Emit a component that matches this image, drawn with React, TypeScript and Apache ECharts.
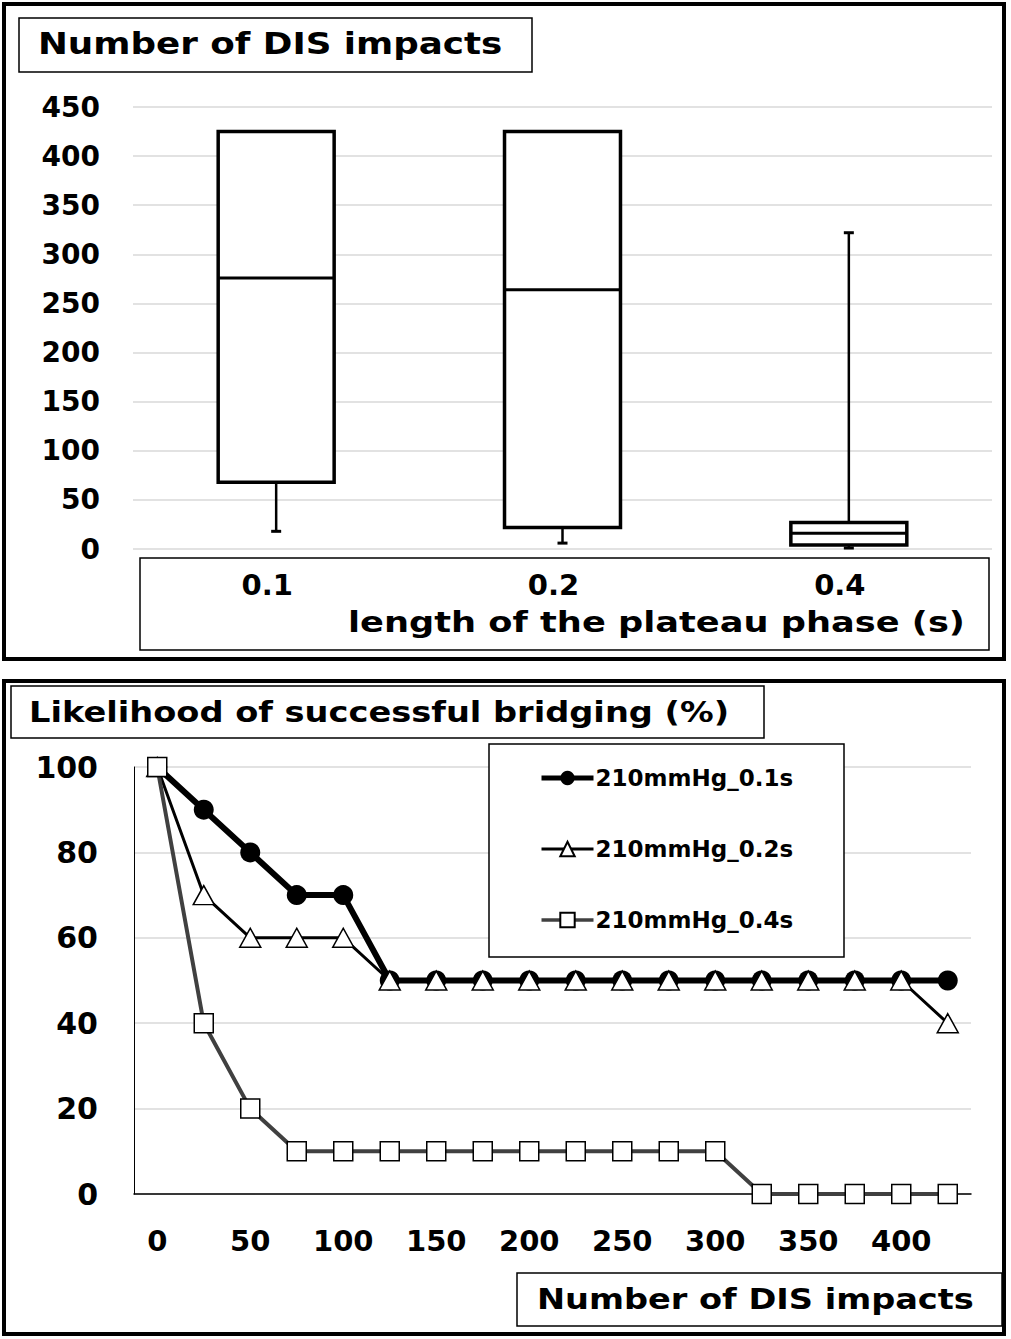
import React, { useEffect, useRef } from "react";
import * as echarts from "echarts";

// ---------- Top panel: box plot ----------
const boxCategories = ["0.1", "0.2", "0.4"];
const boxMin = [18, 6, 1];
const boxQ1 = [68, 22, 4];
const boxMedian = [276, 264, 16];
const boxQ3 = [425, 425, 27];
const boxMax = [425, 425, 322];

// ---------- Bottom panel: line chart ----------
const impactCategories = [
  "0", "25", "50", "75", "100", "125", "150", "175", "200",
  "225", "250", "275", "300", "325", "350", "375", "400", "425",
];
const series01 = [100, 90, 80, 70, 70, 50, 50, 50, 50, 50, 50, 50, 50, 50, 50, 50, 50, 50];
const series02 = [100, 70, 60, 60, 60, 50, 50, 50, 50, 50, 50, 50, 50, 50, 50, 50, 50, 40];
const series04 = [100, 40, 20, 10, 10, 10, 10, 10, 10, 10, 10, 10, 10, 0, 0, 0, 0, 0];
const seriesNames = ["210mmHg_0.1s", "210mmHg_0.2s", "210mmHg_0.4s"];

const FONT = "DejaVu Sans";

export default function App() {
  const ref = useRef<HTMLDivElement>(null);

  useEffect(() => {
    if (!ref.current) return;
    const chart = echarts.init(ref.current, undefined, { renderer: "svg" });

    const boxData = boxCategories.map((_, i) => [
      i, boxMin[i], boxQ1[i], boxMedian[i], boxQ3[i], boxMax[i],
    ]);

    const labelStyle = {
      fontFamily: FONT,
      fontWeight: "bold" as const,
      color: "#000",
    };

    const option: any = {
      animation: false,
      backgroundColor: "#fff",
      grid: [
        { left: 133, right: 19, top: 107, bottom: 790, containLabel: false },
        { left: 134, right: 40, top: 767, bottom: 145, containLabel: false },
      ],
      xAxis: [
        {
          gridIndex: 0,
          type: "category",
          data: boxCategories,
          boundaryGap: true,
          axisLine: { show: false },
          axisTick: { show: false },
          splitLine: { show: false },
          axisLabel: { ...labelStyle, fontSize: 29, margin: 21, padding: [0, 18, 0, 0] },
        },
        {
          gridIndex: 1,
          type: "category",
          data: impactCategories,
          boundaryGap: true,
          axisLine: { show: true, lineStyle: { color: "#000", width: 1.5 } },
          axisTick: { show: false },
          splitLine: { show: false },
          axisLabel: { ...labelStyle, fontSize: 29, margin: 32, interval: 1 },
        },
      ],
      yAxis: [
        {
          gridIndex: 0,
          type: "value",
          min: 0,
          max: 450,
          interval: 50,
          axisLine: { show: false },
          axisTick: { show: false },
          splitLine: { show: true, lineStyle: { color: "#d9d9d9", width: 1.5 } },
          axisLabel: { ...labelStyle, fontSize: 28, margin: 33 },
        },
        {
          gridIndex: 1,
          type: "value",
          min: 0,
          max: 100,
          interval: 20,
          axisLine: { show: true, lineStyle: { color: "#000", width: 1 } },
          axisTick: { show: false },
          splitLine: { show: true, lineStyle: { color: "#d9d9d9", width: 1.5 } },
          axisLabel: { ...labelStyle, fontSize: 30, margin: 36 },
        },
      ],
      legend: {
        data: [
          { name: seriesNames[0], lineStyle: { width: 5, color: "#000" } },
          { name: seriesNames[1], lineStyle: { width: 3, color: "#000" } },
          { name: seriesNames[2], lineStyle: { width: 3.5, color: "#404040" } },
        ],
        orient: "vertical",
        left: 539,
        top: 766,
        padding: 0,
        itemWidth: 52,
        itemHeight: 18,
        itemGap: 47,
        z: 10,
        textStyle: { ...labelStyle, fontSize: 23, lineHeight: 24, padding: [0, 0, 0, -3] },
      },
      series: [
        {
          type: "custom",
          xAxisIndex: 0,
          yAxisIndex: 0,
          data: boxData,
          encode: { x: 0, y: [1, 2, 3, 4, 5] },
          renderItem: (params: any, api: any) => {
            const i = api.value(0);
            const vMin = api.value(1);
            const q1 = api.value(2);
            const med = api.value(3);
            const q3 = api.value(4);
            const vMax = api.value(5);
            const pMin = api.coord([i, vMin]);
            const pQ1 = api.coord([i, q1]);
            const pMed = api.coord([i, med]);
            const pQ3 = api.coord([i, q3]);
            const pMax = api.coord([i, vMax]);
            const band = api.size([1, 0])[0];
            const w = band * 0.405;
            const cx = pMed[0];
            const cap = 5;
            const children: any[] = [];
            const ws = { stroke: "#000", lineWidth: 2.5 };
            if (vMin < q1) {
              children.push({ type: "line", shape: { x1: cx, y1: pQ1[1], x2: cx, y2: pMin[1] }, style: ws });
              children.push({ type: "line", shape: { x1: cx - cap, y1: pMin[1], x2: cx + cap, y2: pMin[1] }, style: { stroke: "#000", lineWidth: 3 } });
            }
            if (vMax > q3) {
              children.push({ type: "line", shape: { x1: cx, y1: pQ3[1], x2: cx, y2: pMax[1] }, style: ws });
              children.push({ type: "line", shape: { x1: cx - cap, y1: pMax[1], x2: cx + cap, y2: pMax[1] }, style: { stroke: "#000", lineWidth: 3 } });
            }
            children.push({
              type: "rect",
              shape: { x: cx - w / 2, y: pQ3[1], width: w, height: pQ1[1] - pQ3[1] },
              style: { fill: "#fff", stroke: "#000", lineWidth: 3.5 },
            });
            children.push({
              type: "line",
              shape: { x1: cx - w / 2, y1: pMed[1], x2: cx + w / 2, y2: pMed[1] },
              style: { stroke: "#000", lineWidth: 3 },
            });
            return { type: "group", children };
          },
        },
        {
          name: seriesNames[0],
          type: "line",
          xAxisIndex: 1,
          yAxisIndex: 1,
          data: series01,
          color: "#000",
          symbol: "circle",
          symbolSize: 20,
          lineStyle: { color: "#000", width: 6 },
          itemStyle: { color: "#000" },
        },
        {
          name: seriesNames[1],
          type: "line",
          xAxisIndex: 1,
          yAxisIndex: 1,
          data: series02,
          color: "#000",
          symbol: "triangle",
          symbolSize: [21, 19],
          lineStyle: { color: "#000", width: 3 },
          itemStyle: { color: "#fff", borderColor: "#000", borderWidth: 1.5 },
        },
        {
          name: seriesNames[2],
          type: "line",
          xAxisIndex: 1,
          yAxisIndex: 1,
          data: series04,
          color: "#404040",
          symbol: "rect",
          symbolSize: [19, 19],
          lineStyle: { color: "#404040", width: 4 },
          itemStyle: { color: "#fff", borderColor: "#000", borderWidth: 1.5 },
        },
      ],
      graphic: [
        // panel borders
        { type: "rect", z: 1, shape: { x: 4, y: 4, width: 1000, height: 655 }, style: { fill: "none", stroke: "#000", lineWidth: 4 } },
        { type: "rect", z: 1, shape: { x: 4, y: 681, width: 1000, height: 653 }, style: { fill: "none", stroke: "#000", lineWidth: 4 } },
        // top title box
        { type: "rect", z: 1, shape: { x: 19, y: 18, width: 513, height: 54 }, style: { fill: "#fff", stroke: "#000", lineWidth: 1.5 } },
        { type: "text", z: 5, x: 38, y: 44, scaleX: 1.19, style: { text: "Number of DIS impacts", fontFamily: FONT, fontWeight: "bold", fontSize: 30, fill: "#000", align: "left", verticalAlign: "middle" } },
        // top x-axis box
        { type: "rect", z: 1, shape: { x: 140, y: 558, width: 849, height: 92 }, style: { fill: "none", stroke: "#000", lineWidth: 1.5 } },
        { type: "text", z: 5, x: 348, y: 622, scaleX: 1.28, style: { text: "length of the plateau phase (s)", fontFamily: FONT, fontWeight: "bold", fontSize: 27.5, fill: "#000", align: "left", verticalAlign: "middle" } },
        // bottom title box
        { type: "rect", z: 1, shape: { x: 11, y: 686, width: 753, height: 52 }, style: { fill: "#fff", stroke: "#000", lineWidth: 1.5 } },
        { type: "text", z: 5, x: 29, y: 712, scaleX: 1.16, style: { text: "Likelihood of successful bridging (%)", fontFamily: FONT, fontWeight: "bold", fontSize: 29, fill: "#000", align: "left", verticalAlign: "middle" } },
        // legend box
        { type: "rect", z: 3, shape: { x: 489, y: 744, width: 355, height: 213 }, style: { fill: "#fff", stroke: "#000", lineWidth: 1.5 } },
        // bottom x-axis title box
        { type: "rect", z: 1, shape: { x: 517, y: 1273, width: 485, height: 53 }, style: { fill: "#fff", stroke: "#000", lineWidth: 1.5 } },
        { type: "text", z: 5, x: 537, y: 1299, scaleX: 1.2, style: { text: "Number of DIS impacts", fontFamily: FONT, fontWeight: "bold", fontSize: 28, fill: "#000", align: "left", verticalAlign: "middle" } },
      ],
    };

    chart.setOption(option);
    return () => {
      chart.dispose();
    };
  }, []);

  return (
    <div
      ref={ref}
      style={{ position: "absolute", left: 0, top: 0, width: 1011, height: 1339, background: "#fff" }}
    />
  );
}
